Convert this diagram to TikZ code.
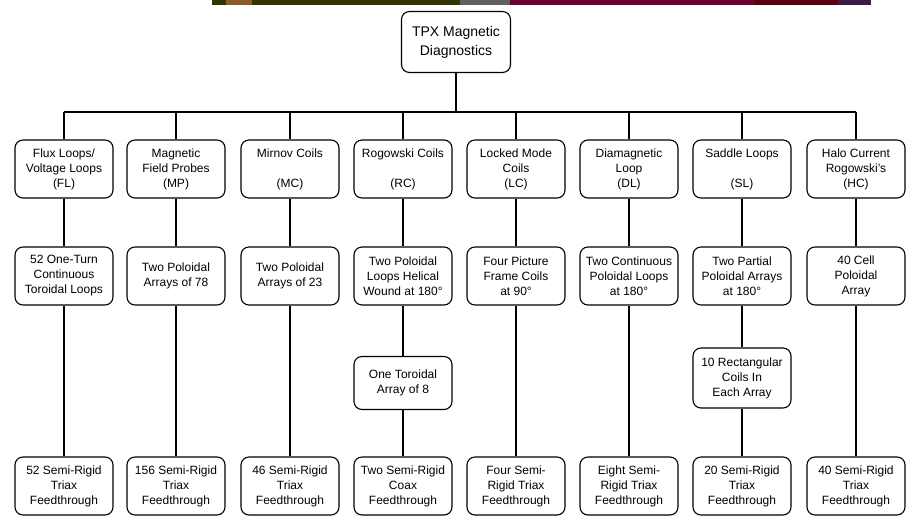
\documentclass[tikz,border=0pt]{standalone}
\usepackage{fontspec}
\setmainfont{Liberation Sans}
\definecolor{stripolive}{RGB}{52,52,0}
\definecolor{stripbrown}{RGB}{140,92,36}
\definecolor{stripgray}{RGB}{96,96,96}
\definecolor{stripred}{RGB}{108,0,48}
\definecolor{stripdark}{RGB}{90,0,16}
\definecolor{strippurple}{RGB}{64,24,72}
\begin{document}
\begin{tikzpicture}[x=1pt,y=-1pt,
    box/.style={draw, line width=1.1pt, rounded corners=8pt, align=center,
        minimum width=98pt, minimum height=58pt, inner sep=1pt,
        font=\fontsize{12}{15}\selectfont},
    link/.style={line width=1.1pt}]
  \useasboundingbox (0,0) rectangle (919,523);
  % strip along the top edge
  \fill[stripolive] (212,0) rectangle (460,5);
  \fill[stripbrown] (226,0) rectangle (252,5);
  \fill[stripgray] (460,0) rectangle (510,5);
  \fill[stripred] (510,0) rectangle (755,5);
  \fill[stripdark] (755,0) rectangle (838,5);
  \fill[strippurple] (838,0) rectangle (871,5);
  % root
  \node[box, minimum width=109pt, minimum height=61pt,
        font=\fontsize{14}{19}\selectfont] (tpx) at (456,42) {TPX Magnetic\\Diagnostics};
  % systems
  \node[box] (fl1) at (64,169) {Flux Loops/\\Voltage Loops\\(FL)};
  \node[box] (mp1) at (176,169) {Magnetic\\Field Probes\\(MP)};
  \node[box] (mc1) at (290,169) {Mirnov Coils\\~\\(MC)};
  \node[box] (rc1) at (403,169) {Rogowski Coils\\~\\(RC)};
  \node[box] (lc1) at (516,169) {Locked Mode\\Coils\\(LC)};
  \node[box] (dl1) at (629,169) {Diamagnetic\\Loop\\(DL)};
  \node[box] (sl1) at (742,169) {Saddle Loops\\~\\(SL)};
  \node[box] (hc1) at (856,169) {Halo Current\\Rogowski's\\(HC)};
  % layout of the coils
  \node[box] (fl2) at (64,276) {52 One-Turn\\Continuous\\Toroidal Loops};
  \node[box] (mp2) at (176,276) {Two Poloidal\\Arrays of 78};
  \node[box] (mc2) at (290,276) {Two Poloidal\\Arrays of 23};
  \node[box] (rc2) at (403,276) {Two Poloidal\\Loops Helical\\Wound at 180°};
  \node[box] (lc2) at (516,276) {Four Picture\\Frame Coils\\at 90°};
  \node[box] (dl2) at (629,276) {Two Continuous\\Poloidal Loops\\at 180°};
  \node[box] (sl2) at (742,276) {Two Partial\\Poloidal Arrays\\at 180°};
  \node[box] (hc2) at (856,276) {40 Cell\\Poloidal\\Array};
  % extra level
  \node[box, minimum height=53pt] (rc3) at (403,383) {One Toroidal\\Array of 8};
  \node[box, minimum height=60pt] (sl3) at (742,378) {10 Rectangular\\Coils In\\Each Array};
  % feedthroughs
  \node[box] (fl4) at (64,486) {52 Semi-Rigid\\Triax\\Feedthrough};
  \node[box] (mp4) at (176,486) {156 Semi-Rigid\\Triax\\Feedthrough};
  \node[box] (mc4) at (290,486) {46 Semi-Rigid\\Triax\\Feedthrough};
  \node[box] (rc4) at (403,486) {Two Semi-Rigid\\Coax\\Feedthrough};
  \node[box] (lc4) at (516,486) {Four Semi-\\Rigid Triax\\Feedthrough};
  \node[box] (dl4) at (629,486) {Eight Semi-\\Rigid Triax\\Feedthrough};
  \node[box] (sl4) at (742,486) {20 Semi-Rigid\\Triax\\Feedthrough};
  \node[box] (hc4) at (856,486) {40 Semi-Rigid\\Triax\\Feedthrough};
  % connections
  \coordinate (bus) at (0,112);
  \draw[link] (tpx.south) -- (tpx.south |- bus);
  \draw[link] (fl1.north |- bus) -- (hc1.north |- bus);
  \foreach \c in {fl,mp,mc,rc,lc,dl,sl,hc}
  {
      \draw[link] (\c1.north) -- (\c1.north |- bus);
      \draw[link] (\c1.south) -- (\c2.north);
  }
  \foreach \c in {fl,mp,mc,lc,dl,hc}
      \draw[link] (\c2.south) -- (\c4.north);
  \foreach \c in {rc,sl}
  {
      \draw[link] (\c2.south) -- (\c3.north);
      \draw[link] (\c3.south) -- (\c4.north);
  }
\end{tikzpicture}
\end{document}
